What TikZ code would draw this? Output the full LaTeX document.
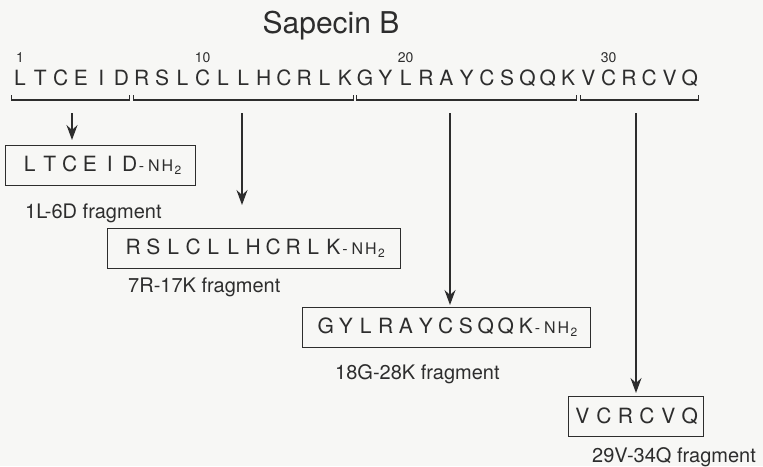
\documentclass[tikz,border=0pt]{standalone}
\usepackage{fontspec}
\setmainfont{TeX Gyre Heros}
\usetikzlibrary{arrows.meta, positioning, calc}
\definecolor{inkcolor}{RGB}{45,45,45}
\definecolor{papercolor}{RGB}{247,247,245}
\newlength{\cellw}
\setlength{\cellw}{20pt}
\newcommand{\pep}[1]{\pepnext#1\relax}
\def\pepnext#1{\ifx#1\relax\else\makebox[\cellw]{#1}\expandafter\pepnext\fi}
\newcommand{\amide}{{\fontsize{16}{16}\selectfont\kern-1pt-\kern4pt N\kern2pt H\kern1.5pt\raisebox{-3pt}{\fontsize{12}{12}\selectfont 2}}}
\tikzset{
    res/.style={anchor=base, inner sep=0pt, minimum width=20.3pt, font=\fontsize{21}{25}\selectfont},
    seqnum/.style={anchor=base, inner sep=0pt, font=\fontsize{14}{16}\selectfont},
    title/.style={anchor=base, inner sep=0pt, font=\fontsize{30}{34}\selectfont},
    fragbox/.style={rectangle, draw, line width=1.2pt, anchor=north west,
        minimum height=40pt, inner xsep=4pt, font=\fontsize{21}{25}\selectfont},
    fraglabel/.style={inner sep=0pt, font=\fontsize{20}{24}\selectfont},
    bracket/.style={line width=1.1pt},
    arrow/.style={-{Stealth[length=15pt, width=11pt, inset=5pt]}, line width=1.4pt}
}

\begin{document}
\begin{tikzpicture}[x=1pt, y=-1pt, color=inkcolor]

    \useasboundingbox[fill=papercolor] (0,0) rectangle (763,466);

    \node[title] (title) at (331,33) {Sapecin B};

    % peptide sequence, one residue per node
    \foreach \aa [count=\i] in {L,T,C,E,I,D,R,S,L,C,L,L,H,C,R,L,K,G,Y,L,R,A,Y,C,S,Q,Q,K,V,C,R,C,V,Q}
        \node[res] (r\i) at ({20+20.3*(\i-1)},85) {\aa};

    \coordinate (numrow) at (0,62);
    \coordinate (brtop) at (0,95);
    \coordinate (brbot) at (0,100);

    \foreach \n in {1,10,20,30}
        \node[seqnum] (n\n) at (r\n.base |- numrow) {\n};

    % brackets under each fragment
    \foreach \a/\b in {1/6,7/17,18/28,29/34}
        \draw[bracket] ($(r\a.west |- brtop)+(2,0)$) -- ($(r\a.west |- brbot)+(2,0)$)
            -- ($(r\b.east |- brbot)+(-2,0)$) -- ($(r\b.east |- brtop)+(-2,0)$);

    \node[fragbox, minimum width=190pt] (f1) at (5,145) {\pep{LTCEID}\amide};
    \node[fragbox, minimum width=293pt] (f2) at (107,228) {\pep{RSLCLLHCRLK}\amide};
    \node[fragbox, minimum width=288pt] (f3) at (302,307) {\pep{GYLRAYCSQQK}\amide};
    \node[fragbox, minimum width=135pt, inner xsep=2pt] (f4) at (568,396) {\setlength{\cellw}{21.5pt}\pep{VCRCVQ}};

    \node[fraglabel, below right=17pt and 20pt of f1.south west] (l1) {1L-6D fragment};
    \node[fraglabel, below right=8pt and 21pt of f2.south west] (l2) {7R-17K fragment};
    \node[fraglabel, below right=16pt and 33pt of f3.south west] (l3) {18G-28K fragment};
    \node[fraglabel, below right=10pt and 24pt of f4.south west] (l4) {29V-34Q fragment};

    \coordinate (a1) at (72,113);
    \coordinate (a2) at (242,113);
    \coordinate (a3) at (450,113);
    \coordinate (a4) at (636,113);

    \draw[arrow, shorten >=5pt] (a1) -- (a1 |- f1.north);
    \draw[arrow, shorten >=23pt] (a2) -- (a2 |- f2.north);
    \draw[arrow, shorten >=2pt] (a3) -- (a3 |- f3.north);
    \draw[arrow, shorten >=3pt] (a4) -- (a4 |- f4.north);

\end{tikzpicture}
\end{document}
